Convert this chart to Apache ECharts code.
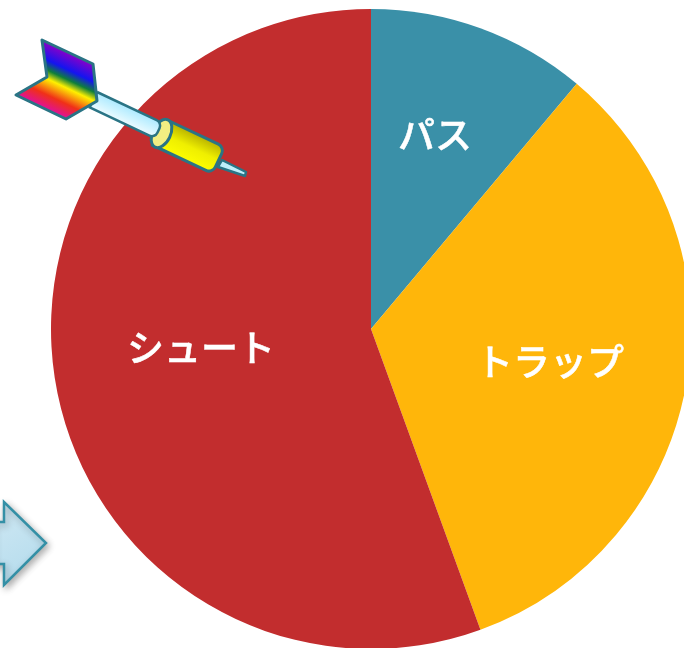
<!DOCTYPE html>
<html>
<head>
<meta charset="utf-8">
<style>html,body{margin:0;padding:0;background:#fff;overflow:hidden}#chart{width:684px;height:648px}</style>
<script src="https://cdn.jsdelivr.net/npm/echarts@6/dist/echarts.min.js"></script>
</head>
<body>
<div id="chart"></div>
<script>
// Share of practice items
const categories = ['パス', 'トラップ', 'シュート'];
const shares = [10, 30, 50];
const sliceColors = ['#3A90A8', '#FFB60A', '#C22D2E'];
const labelAnchors = [[435, 135], [550, 362], [201, 348]];

const OUTLINE = '#2A7485';
const linear = (x, y, x2, y2, colorStops) => ({ type: 'linear', x, y, x2, y2, global: true, colorStops });
const TILT = -25.3 * Math.PI / 180;

// Dart decoration: tip, barrel, collar, shaft, then flights on top
const dartParts = [
  { type: 'polygon', z: 20,
    shape: { points: [[222, 160], [246, 172], [245, 176], [218, 167]] },
    style: { fill: '#BFEFFB', stroke: OUTLINE, lineWidth: 2.5, lineJoin: 'round' } },
  { type: 'rect', z: 21, x: 165, y: 119, rotation: TILT, originX: 0, originY: 0,
    shape: { x: 0, y: 0, width: 66, height: 29, r: [0, 7, 7, 0] },
    style: { fill: { type: 'linear', x: 0, y: 0, x2: 0, y2: 1, colorStops: [
      { offset: 0, color: '#B3AC00' }, { offset: 0.5, color: '#EFEF00' }, { offset: 1, color: '#FFFF00' }] },
      stroke: OUTLINE, lineWidth: 3 } },
  { type: 'ellipse', z: 22, x: 161.5, y: 133.5, rotation: TILT,
    shape: { cx: 0, cy: 0, rx: 9, ry: 15 },
    style: { fill: '#F2EE82', stroke: OUTLINE, lineWidth: 3 } },
  { type: 'rect', z: 23, x: 97, y: 92, rotation: TILT, originX: 0, originY: 0,
    shape: { x: 0, y: 0, width: 72, height: 17, r: [0, 6, 6, 0] },
    style: { fill: { type: 'linear', x: 0, y: 0, x2: 0, y2: 1, colorStops: [
      { offset: 0, color: '#A8E8FF' }, { offset: 0.55, color: '#CFF4FF' }, { offset: 1, color: '#F2FCFF' }] },
      stroke: OUTLINE, lineWidth: 2.5 } },
  { type: 'polygon', z: 24,
    shape: { points: [[42, 40], [93, 64], [97, 101], [66, 119], [16, 95], [47, 77]] },
    style: { fill: linear(42, 40, 16, 95, [
      { offset: 0, color: '#8A00C8' }, { offset: 0.26, color: '#1414F0' }, { offset: 0.41, color: '#0F7F3A' },
      { offset: 0.54, color: '#FFF000' }, { offset: 0.78, color: '#F03018' }, { offset: 1, color: '#E0109A' }]),
      stroke: OUTLINE, lineWidth: 3, lineJoin: 'round' } }
];

// Block arrow at the lower-left edge
const sideArrow = {
  type: 'polygon', z: 20,
  shape: { points: [[-8, 522], [4, 522], [4, 502], [46, 543], [4, 585], [4, 564], [-8, 564]] },
  style: { fill: linear(0, 502, 46, 585, [{ offset: 0, color: '#CFE8F3' }, { offset: 1, color: '#B1DAEC' }]),
    stroke: '#3490A6', lineWidth: 2.5, lineJoin: 'miter',
    shadowBlur: 7, shadowColor: 'rgba(0,0,0,0.3)', shadowOffsetX: 2, shadowOffsetY: 3 }
};

const chart = echarts.init(document.getElementById('chart'), null, { renderer: 'canvas' });
chart.setOption({
  animation: false,
  backgroundColor: '#fff',
  color: sliceColors,
  series: [{
    type: 'pie',
    center: [371, 329],
    radius: [0, 320],
    startAngle: 90,
    clockwise: true,
    silent: true,
    data: categories.map((name, i) => ({ name, value: shares[i] })),
    label: {
      show: true, position: 'inside', formatter: '{b}', color: '#fff',
      fontFamily: '"Noto Sans CJK JP"', fontSize: 37, fontWeight: 500,
      textBorderColor: '#fff', textBorderWidth: 0.5
    },
    labelLine: { show: false },
    labelLayout: p => ({
      x: labelAnchors[p.dataIndex][0], y: labelAnchors[p.dataIndex][1],
      align: 'center', verticalAlign: 'middle'
    })
  }],
  graphic: { elements: [...dartParts, sideArrow] }
});
</script>
</body>
</html>
